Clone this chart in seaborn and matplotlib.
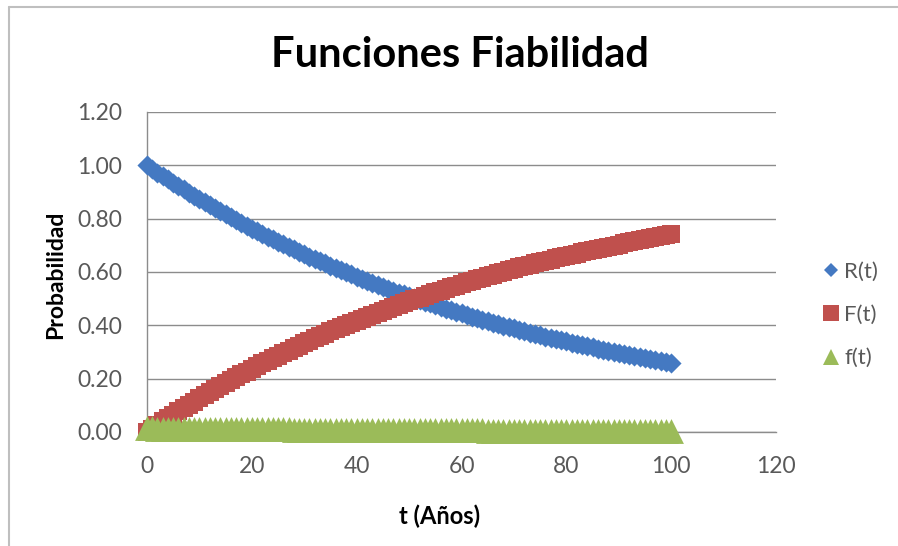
import matplotlib
matplotlib.use("Agg")
import matplotlib.pyplot as plt
from matplotlib.lines import Line2D
import numpy as np
import pandas as pd
import seaborn as sns

# Time in years
t_years = list(range(0, 101))

# Reliability R(t)
r_values = [
    1.000, 0.987, 0.973, 0.960, 0.947, 0.935, 0.922, 0.910, 0.898, 0.886,
    0.874, 0.862, 0.850, 0.839, 0.828, 0.817, 0.806, 0.795, 0.784, 0.774,
    0.763, 0.753, 0.743, 0.733, 0.723, 0.714, 0.704, 0.695, 0.685, 0.676,
    0.667, 0.658, 0.649, 0.641, 0.632, 0.623, 0.615, 0.607, 0.599, 0.591,
    0.583, 0.575, 0.567, 0.560, 0.552, 0.545, 0.537, 0.530, 0.523, 0.516,
    0.509, 0.502, 0.496, 0.489, 0.482, 0.476, 0.470, 0.463, 0.457, 0.451,
    0.445, 0.439, 0.433, 0.427, 0.421, 0.416, 0.410, 0.405, 0.399, 0.394,
    0.389, 0.383, 0.378, 0.373, 0.368, 0.363, 0.358, 0.354, 0.349, 0.344,
    0.340, 0.335, 0.331, 0.326, 0.322, 0.317, 0.313, 0.309, 0.305, 0.301,
    0.297, 0.293, 0.289, 0.285, 0.281, 0.277, 0.274, 0.270, 0.266, 0.263,
    0.259,
]

# Unreliability F(t)
f_cum_values = [
    0.000, 0.013, 0.027, 0.040, 0.053, 0.065, 0.078, 0.090, 0.102, 0.114,
    0.126, 0.138, 0.150, 0.161, 0.172, 0.183, 0.194, 0.205, 0.216, 0.226,
    0.237, 0.247, 0.257, 0.267, 0.277, 0.286, 0.296, 0.305, 0.315, 0.324,
    0.333, 0.342, 0.351, 0.359, 0.368, 0.377, 0.385, 0.393, 0.401, 0.409,
    0.417, 0.425, 0.433, 0.440, 0.448, 0.455, 0.463, 0.470, 0.477, 0.484,
    0.491, 0.498, 0.504, 0.511, 0.518, 0.524, 0.530, 0.537, 0.543, 0.549,
    0.555, 0.561, 0.567, 0.573, 0.579, 0.584, 0.590, 0.595, 0.601, 0.606,
    0.611, 0.617, 0.622, 0.627, 0.632, 0.637, 0.642, 0.646, 0.651, 0.656,
    0.660, 0.665, 0.669, 0.674, 0.678, 0.683, 0.687, 0.691, 0.695, 0.699,
    0.703, 0.707, 0.711, 0.715, 0.719, 0.723, 0.726, 0.730, 0.734, 0.737,
    0.741,
]

# Failure density f(t)
f_dens_values = [
    0.0135, 0.0133, 0.0131, 0.0130, 0.0128, 0.0126, 0.0124, 0.0123, 0.0121, 0.0120,
    0.0118, 0.0116, 0.0115, 0.0113, 0.0112, 0.0110, 0.0109, 0.0107, 0.0106, 0.0104,
    0.0103, 0.0102, 0.0100, 0.0099, 0.0098, 0.0096, 0.0095, 0.0094, 0.0093, 0.0091,
    0.0090, 0.0089, 0.0088, 0.0086, 0.0085, 0.0084, 0.0083, 0.0082, 0.0081, 0.0080,
    0.0079, 0.0078, 0.0077, 0.0076, 0.0075, 0.0074, 0.0073, 0.0072, 0.0071, 0.0070,
    0.0069, 0.0068, 0.0067, 0.0066, 0.0065, 0.0064, 0.0063, 0.0063, 0.0062, 0.0061,
    0.0060, 0.0059, 0.0058, 0.0058, 0.0057, 0.0056, 0.0055, 0.0055, 0.0054, 0.0053,
    0.0052, 0.0052, 0.0051, 0.0050, 0.0050, 0.0049, 0.0048, 0.0048, 0.0047, 0.0046,
    0.0046, 0.0045, 0.0045, 0.0044, 0.0043, 0.0043, 0.0042, 0.0042, 0.0041, 0.0041,
    0.0040, 0.0040, 0.0039, 0.0038, 0.0038, 0.0037, 0.0037, 0.0036, 0.0036, 0.0035,
    0.0035,
]

series_labels = ["R(t)", "F(t)", "f(t)"]
x_ticks = [0, 20, 40, 60, 80, 100, 120]
y_ticks = [0.00, 0.20, 0.40, 0.60, 0.80, 1.00, 1.20]

BLUE = "#4479C2"
RED = "#C0504D"
GREEN = "#9BBB59"
GRID = "#8C8C8C"
TEXT = "#595959"

sns.set_theme(style="white")
plt.rcParams["font.family"] = ["Lato", "DejaVu Sans"]

fig = plt.figure(figsize=(8.98, 5.46), dpi=100)
ax = fig.add_axes([147 / 898, 1 - 432 / 546, (776 - 147) / 898, (432 - 112) / 546])

df = pd.DataFrame({"t": t_years, "R": r_values, "F": f_cum_values, "f": f_dens_values})

styles = [("R", BLUE, "D", 105), ("F", RED, "s", 175), ("f", GREEN, "^", 320)]
for col, color, marker, size in styles:
    sns.scatterplot(data=df, x="t", y=col, ax=ax, color=color, marker=marker,
                    s=size, linewidth=0, clip_on=False, zorder=3, legend=False)

ax.set_xlim(0, 120)
ax.set_ylim(0, 1.2)
ax.set_xticks(x_ticks)
ax.set_yticks(y_ticks)
ax.set_yticklabels([f"{v:.2f}" for v in y_ticks])
ax.tick_params(axis="both", colors=TEXT, labelsize=16.5, length=0)
ax.tick_params(axis="y", pad=18)
ax.tick_params(axis="x", pad=17)
ax.yaxis.grid(True, color=GRID, linewidth=1)
ax.xaxis.grid(False)
for side in ["top", "right"]:
    ax.spines[side].set_visible(False)
for side in ["left", "bottom"]:
    ax.spines[side].set_color(GRID)
    ax.spines[side].set_linewidth(1)
ax.set_xlabel("")
ax.set_ylabel("")

fig.text(460 / 898, 1 - 55 / 546, "Funciones Fiabilidad", ha="center", va="center",
         fontsize=30, fontweight="bold", color="black")
fig.text(56 / 898, 1 - 275 / 546, "Probabilidad", ha="center", va="center",
         rotation=90, fontsize=16.5, fontweight="bold", color="black")
fig.text(440 / 898, 1 - 516 / 546, "t (Años)", ha="center", va="center",
         fontsize=17, fontweight="bold", color="black")

handles = [
    Line2D([], [], linestyle="none", marker="D", markersize=7.5, color=BLUE, markeredgewidth=0),
    Line2D([], [], linestyle="none", marker="s", markersize=11, color=RED, markeredgewidth=0),
    Line2D([], [], linestyle="none", marker="^", markersize=11, color=GREEN, markeredgewidth=0),
]
fig.legend(handles, series_labels, loc="center left", bbox_to_anchor=(802 / 898, 1 - 315 / 546),
           frameon=False, fontsize=16, labelspacing=1.05, handlelength=0.8, handletextpad=0.2,
           labelcolor=TEXT)

# Chart area border
fig.add_artist(Line2D([9 / 898, 9 / 898], [0, 1 - 7 / 546], transform=fig.transFigure,
                      color="#BFBFBF", linewidth=1.5))
fig.add_artist(Line2D([9 / 898, 1], [1 - 7 / 546, 1 - 7 / 546], transform=fig.transFigure,
                      color="#BFBFBF", linewidth=1.5))

fig.savefig("out.png", dpi=100)
